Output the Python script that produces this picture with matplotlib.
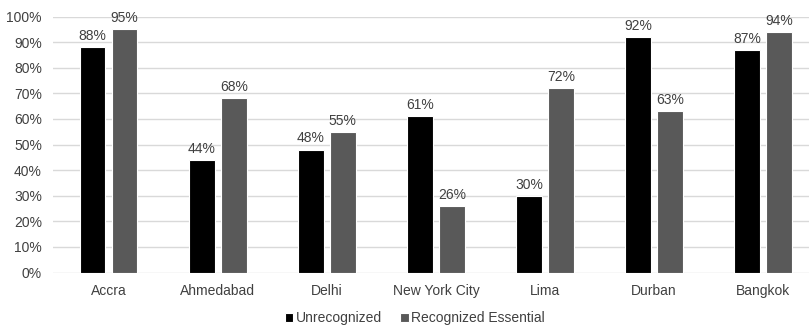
import matplotlib
matplotlib.use("Agg")
import matplotlib.pyplot as plt
import numpy as np

categories = ["Accra", "Ahmedabad", "Delhi", "New York City", "Lima", "Durban", "Bangkok"]
unrecognized = [88, 44, 48, 61, 30, 92, 87]
recognized = [95, 68, 55, 26, 72, 63, 94]
series_names = ["Unrecognized", "Recognized Essential"]
yticks = list(range(0, 101, 10))

plt.rcParams['font.family'] = ['Liberation Sans', 'DejaVu Sans']
txt = '#404040'

fig = plt.figure(figsize=(8.09, 3.29), dpi=100)
ax = fig.add_axes([53/809, 56.5/329, (809-53)/809, (312.5-56.5)/329])

x = np.arange(len(categories))
w = 0.235
off = 0.147
b1 = ax.bar(x - off, unrecognized, w, color='#000000', edgecolor='white', linewidth=0.8,
            label=series_names[0], zorder=3)
b2 = ax.bar(x + off, recognized, w, color='#595959', edgecolor='white', linewidth=0.8,
            label=series_names[1], zorder=3)
for bars, vals in ((b1, unrecognized), (b2, recognized)):
    for r, v in zip(bars, vals):
        ax.annotate(f"{v}%", (r.get_x() + r.get_width()/2, v), xytext=(0, 3),
                    textcoords='offset points', ha='center', va='bottom',
                    fontsize=10, color=txt)

ax.set_xlim(-0.51, 6.42)
ax.set_ylim(0, 100)
ax.set_yticks(yticks)
ax.set_yticklabels([f"{t}%" for t in yticks], fontsize=10, color=txt)
ax.set_xticks(x)
ax.set_xticklabels(categories, fontsize=10, color=txt)
ax.tick_params(axis='x', length=0, pad=8)
ax.tick_params(axis='y', length=0, pad=8)
ax.grid(axis='y', color='#d9d9d9', linewidth=1, zorder=0)
for s in ax.spines.values():
    s.set_visible(False)

leg = fig.legend(handles=[b1, b2], labels=series_names, loc='center',
                 bbox_to_anchor=(415/809, 11/329), ncol=2, frameon=False, fontsize=10,
                 handlelength=0.6, handleheight=0.6, handletextpad=0.2, columnspacing=1.3)
for t in leg.get_texts():
    t.set_color(txt)

fig.savefig("out.png", dpi=100)
